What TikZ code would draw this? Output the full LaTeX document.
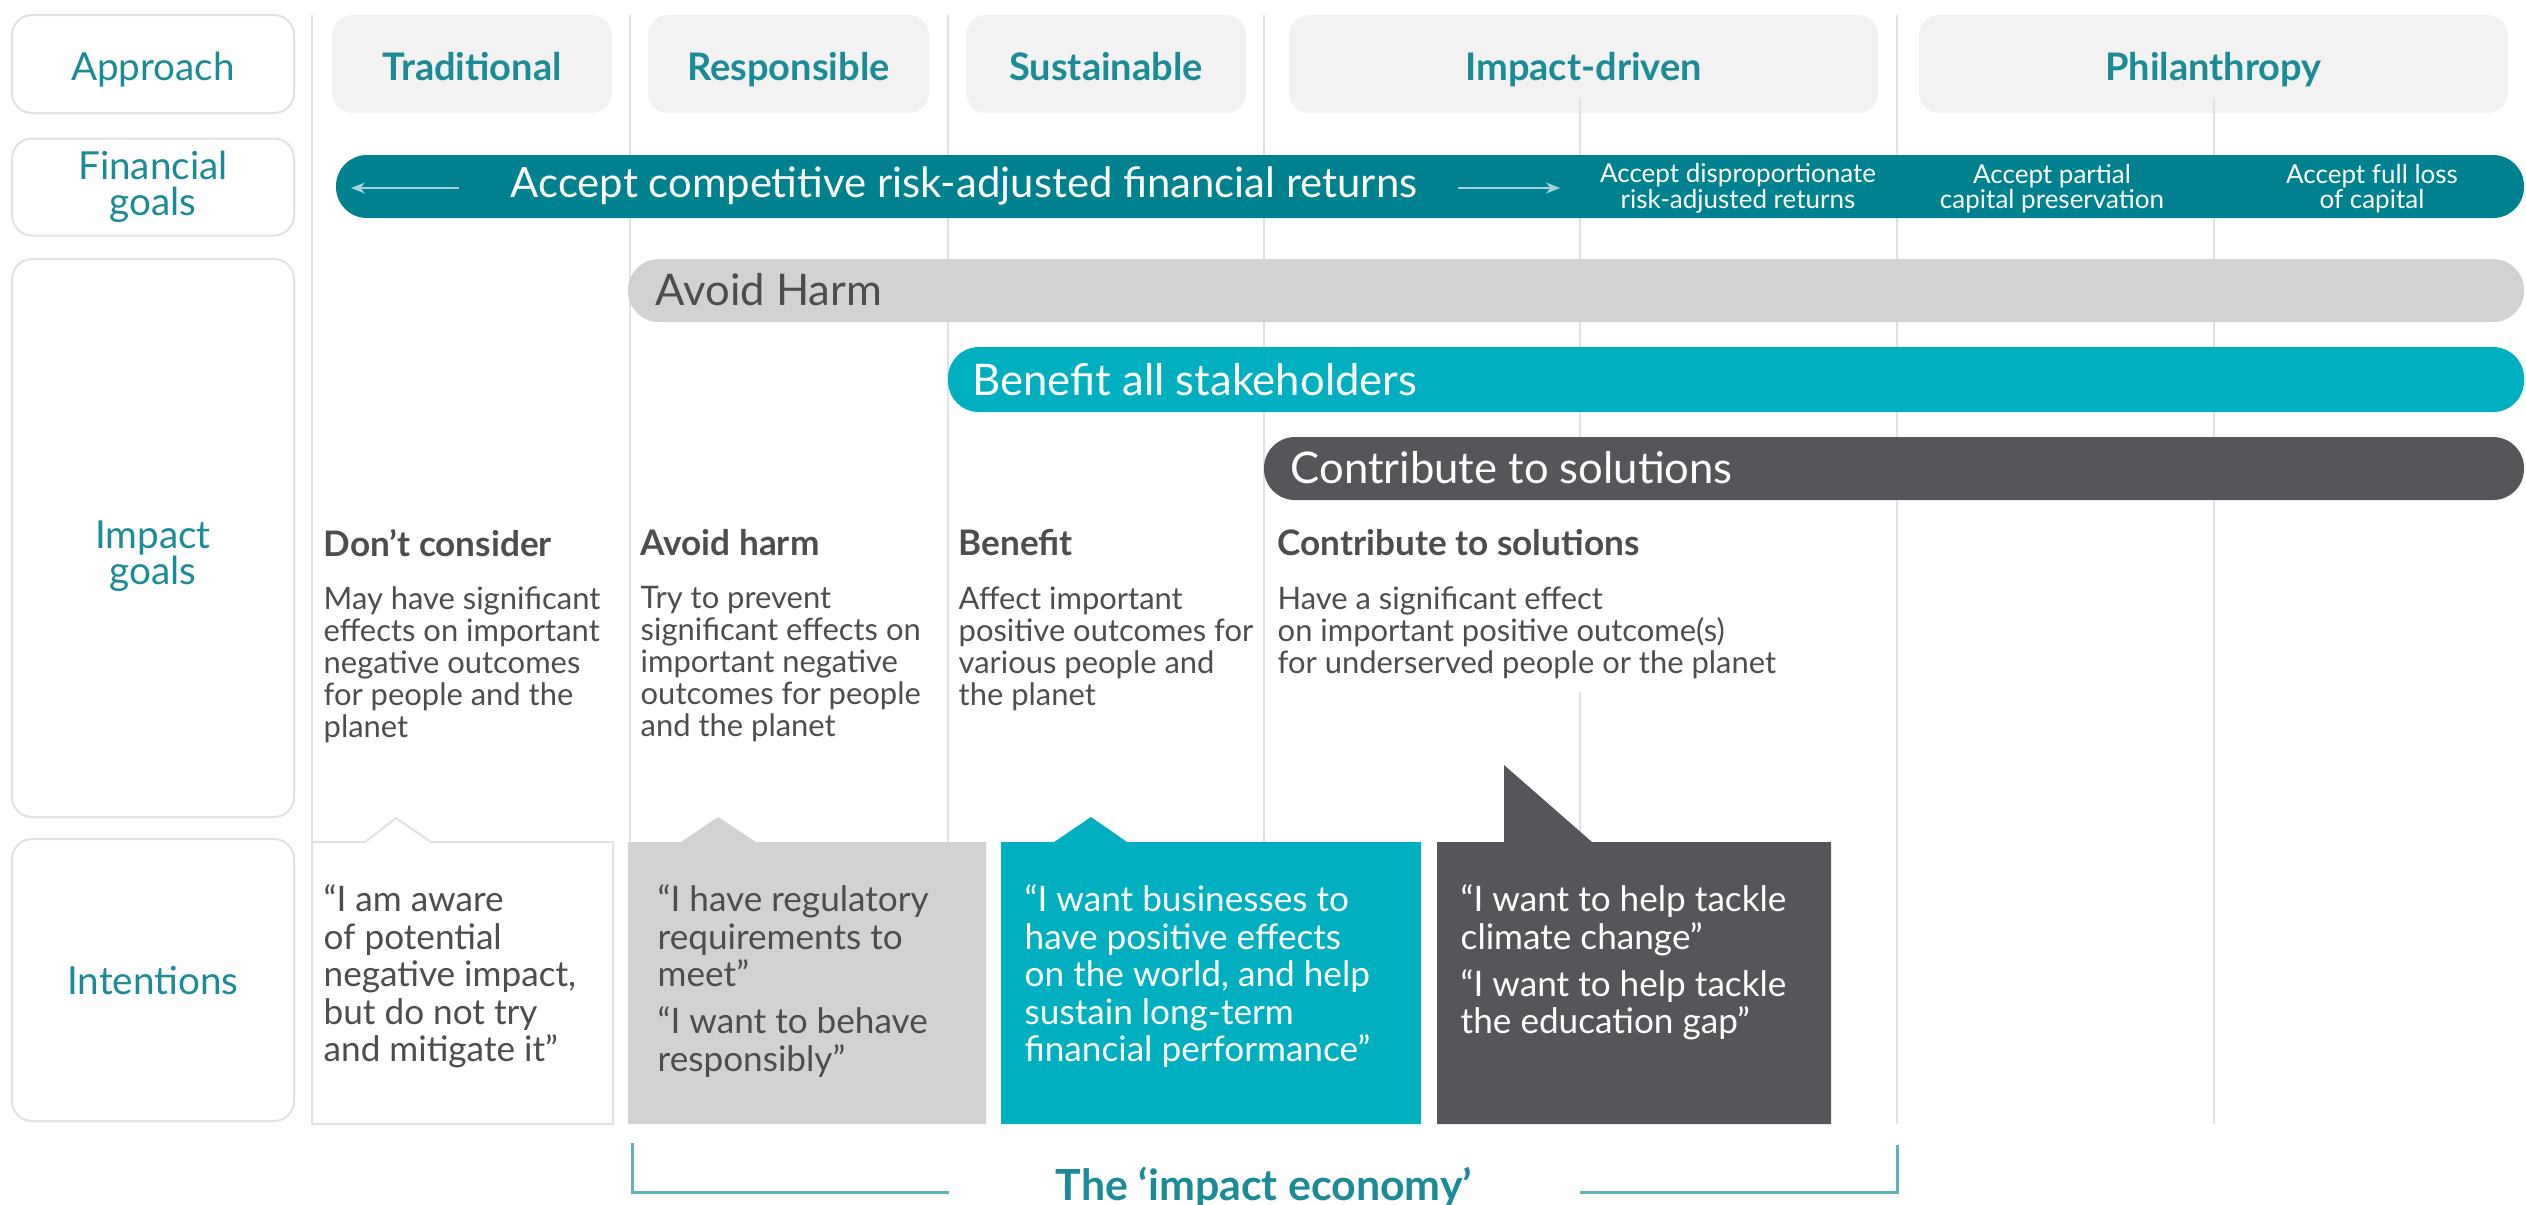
\documentclass[tikz,border=0pt]{standalone}
\usepackage{fontspec}
\setmainfont{Lato}
\usetikzlibrary{positioning,arrows.meta}

\definecolor{tealdark}{HTML}{00818F}
\definecolor{tealbright}{HTML}{00AFC0}
\definecolor{tealtext}{HTML}{1B8B97}
\definecolor{harmgray}{HTML}{D1D2D4}
\definecolor{slate}{HTML}{55565A}
\definecolor{bodytext}{HTML}{4D4D4F}
\definecolor{gridgray}{HTML}{E2E2E2}
\definecolor{headfill}{HTML}{F2F2F2}
\definecolor{arrowpale}{HTML}{A3D3D8}
\definecolor{brackcol}{HTML}{5FB4BC}
\newcommand\fsz[2]{\fontsize{#1}{#2}\selectfont}

\begin{document}
\begin{tikzpicture}[x=0.1mm,y=-0.1mm]
	\tikzset{lblbox/.style={draw=gridgray,line width=0.2mm,fill=white,rounded corners=2mm,minimum width=28.2mm,text=tealtext,font=\fsz{11}{10.1},align=center,inner sep=0},
		headbox/.style={fill=headfill,rounded corners=2mm,minimum height=9.8mm,text=tealtext,font=\fsz{10.8}{12}\bfseries,inner sep=0,text height=3.6mm,text depth=0.4mm},
		grid/.style={gridgray,line width=0.2mm},
		bar/.style={rounded corners=3.1mm},
		bartxt/.style={anchor=west,font=\fsz{12.4}{14},inner sep=0},
		finsmall/.style={text=white,font=\fsz{7.4}{7.3},align=center,inner sep=0},
		goalhead/.style={anchor=west,text=bodytext,font=\fsz{10}{11}\bfseries,inner sep=0},
		goalbody/.style={anchor=north west,text=bodytext,font=\fsz{8.8}{9.1},align=left,inner sep=0},
		quote/.style={anchor=north west,font=\fsz{10}{10.67},align=left,inner sep=0},
		brack/.style={brackcol,line width=0.3mm}}
	\useasboundingbox (0,0) rectangle (2526,1204);
	
	\node[lblbox,minimum height=9.8mm,text height=3.6mm,text depth=0.4mm](approach) at (153,64) {Approach};
	\node[lblbox,minimum height=9.7mm](fingoals) at (153,187) {Financial\\goals};
	\node[lblbox,minimum height=55.8mm](impactbox) at (153,538) {};
	\node[text=tealtext,font=\fsz{11}{10.1},align=center](impact) at (153,556) {Impact\\goals};
	\node[lblbox,minimum height=28.2mm](intentions) at (153,980) {Intentions};
	
	\node[headbox,minimum width=28mm](trad) at (472,64) {Traditional};
	\node[headbox,minimum width=28.1mm](resp) at (788.5,64) {Responsible};
	\node[headbox,minimum width=28mm](sust) at (1106,64) {Sustainable};
	\node[headbox,minimum width=58.9mm](drive) at (1583.5,64) {Impact-driven};
	\node[headbox,minimum width=58.9mm](phil) at (2213.5,64) {Philanthropy};
	
	\foreach \gx in {312,630,948,1264,1897}
		\draw[grid] (\gx,15) -- (\gx,1124);
	\draw[grid] (2214,98) -- (2214,1124);
	\draw[grid] (1580,98) -- (1580,500) (1580,692) -- (1580,1124);
	
	\fill[tealdark,bar] (336,155) rectangle (2524,218);
	\node[text=white,font=\fsz{11.9}{13},inner sep=0](compete) at (964,186) {Accept competitive risk-adjusted financial returns};
	\draw[arrowpale,line width=0.25mm,{Stealth[length=1.4mm,width=1.1mm]}-] (351,188) -- (459,188);
	\draw[arrowpale,line width=0.25mm,-{Stealth[length=1.4mm,width=1.1mm]}] (1458,188) -- (1560,188);
	\node[finsmall](dispro) at (1738,188.5) {Accept disproportionate\\risk-adjusted returns};
	\node[finsmall](partial) at (2052,188.5) {Accept partial\\capital preservation};
	\node[finsmall](fullloss) at (2372,188.5) {Accept full loss\\of capital};
	
	\fill[harmgray,bar] (628,259) rectangle (2524,322);
	\node[bartxt,text=bodytext](harmbar) at (655,290) {Avoid Harm};
	\fill[tealbright,bar] (948,347) rectangle (2524,412);
	\node[bartxt,text=white](benefitbar) at (972,380) {Benefit all stakeholders};
	\fill[slate,bar] (1264,437) rectangle (2524,500);
	\node[bartxt,text=white](solvebar) at (1290,468) {Contribute to solutions};
	
	\node[goalhead](dontH) at (323,543) {Don’t consider};
	\node[goalbody](dontB) at (323,586) {May have significant\\effects on important\\negative outcomes\\for people and the\\planet};
	\node[goalhead](harmH) at (640,543) {Avoid harm};
	\node[goalbody](harmB) at (640,586) {Try to prevent\\significant effects on\\important negative\\outcomes for people\\and the planet};
	\node[goalhead](benH) at (958,543) {Benefit};
	\node[goalbody](benB) at (958,586) {Affect important\\positive outcomes for\\various people and\\the planet};
	\node[goalhead](solH) at (1277,543) {Contribute to solutions};
	\node[goalbody](solB) at (1277,586) {Have a significant effect\\on important positive outcome(s)\\for underserved people or the planet};
	
	\draw[gridgray,line width=0.2mm,fill=white] (312,842) -- (365,842) -- (396,818) -- (431,842) -- (613,842) -- (613,1124) -- (312,1124) -- cycle;
	\fill[harmgray] (628,842) -- (681,842) -- (718,817) -- (756,842) -- (986,842) -- (986,1124) -- (628,1124) -- cycle;
	\fill[tealbright] (1001,842) -- (1054,842) -- (1091,817) -- (1127,842) -- (1421,842) -- (1421,1124) -- (1001,1124) -- cycle;
	\fill[slate] (1437,842) -- (1504,842) -- (1504,765) -- (1592,842) -- (1831,842) -- (1831,1124) -- (1437,1124) -- cycle;
	
	\node[quote,text=bodytext](awareQ) at (323,884) {“I am aware\\of potential\\negative impact,\\but do not try\\and mitigate it”};
	\node[quote,text=bodytext](regQ) at (657,884) {“I have regulatory\\requirements to\\meet”\\[2.8pt]“I want to behave\\responsibly”};
	\node[quote,text=white](bizQ) at (1024,884) {“I want businesses to\\have positive effects\\on the world, and help\\sustain long-term\\financial performance”};
	\node[quote,text=white](tackleQ) at (1460,884) {“I want to help tackle\\climate change”\\[2.8pt]“I want to help tackle\\the education gap”};
	
	\draw[brack] (632,1143) -- (632,1192) -- (949,1192);
	\draw[brack] (1580,1192) -- (1897,1192) -- (1897,1145);
	\node[text=tealtext,font=\fsz{12.2}{14}\bfseries](economy) at (1264,1187) {The ‘impact economy’};
\end{tikzpicture}
\end{document}
